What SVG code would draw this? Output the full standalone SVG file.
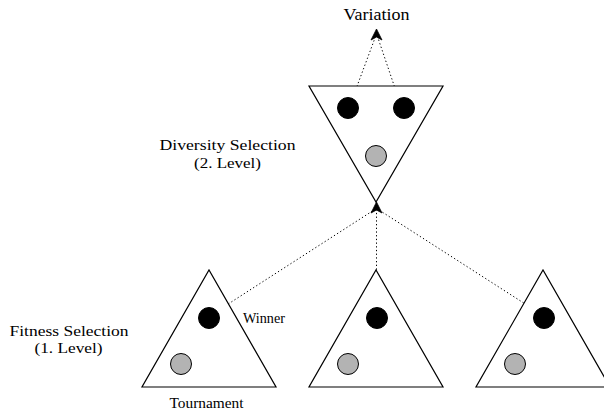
<svg xmlns="http://www.w3.org/2000/svg" width="604" height="413" viewBox="0 0 604 413">
<style>
.tri{fill:#fff;stroke:#000;stroke-width:1.2}
.win{fill:#000;stroke:#000;stroke-width:1}
.los{fill:#b3b3b3;stroke:#000;stroke-width:1}
.con{fill:none;stroke:#000;stroke-width:1;stroke-dasharray:1.3 2.4}
.head{fill:#000;stroke:#000;stroke-width:0.8;stroke-linejoin:miter}
.lbl{font-family:'Liberation Serif','Times New Roman',serif;fill:#000}
.big{font-size:17px}
.two{font-size:15px}
.sm{font-size:15px}
</style>
<rect width="604" height="413" fill="#fff"/>
<g id="connectors">
<line class="con" x1="353" y1="97" x2="375" y2="38"/>
<line class="con" x1="398" y1="97" x2="378" y2="38"/>
<polygon class="head" points="376.5,29 382,40 376.5,37 371,40"/>
<line class="con" x1="222" y1="308" x2="374" y2="210"/>
<line class="con" x1="376.5" y1="303" x2="376.5" y2="210"/>
<line class="con" x1="533" y1="309" x2="379" y2="210"/>
<polygon class="head" points="376.5,202 382,213 376.5,210 371,213"/>
</g>
<g id="diversity">
<polygon class="tri" points="309,86 443,86 376,202"/>
<circle class="win" cx="348" cy="108" r="10.5"/>
<circle class="win" cx="404" cy="108" r="10.5"/>
<circle class="los" cx="376" cy="156" r="10.5"/>
</g>
<g id="tournament1">
<polygon class="tri" points="142,387 276,387 209,270"/>
<circle class="win" cx="209" cy="318" r="10.5"/>
<circle class="los" cx="181" cy="364" r="10.5"/>
</g>
<g id="tournament2">
<polygon class="tri" points="309,387 443,387 376,270"/>
<circle class="win" cx="377" cy="318" r="10.5"/>
<circle class="los" cx="348" cy="364" r="10.5"/>
</g>
<g id="tournament3">
<polygon class="tri" points="476,387 610,387 543,270"/>
<circle class="win" cx="544" cy="318" r="10.5"/>
<circle class="los" cx="515" cy="364" r="10.5"/>
</g>
<g id="labels">
<text class="lbl big" x="343.5" y="19.5" textLength="66" lengthAdjust="spacingAndGlyphs">Variation</text>
<text class="lbl two" x="159.5" y="150" textLength="136" lengthAdjust="spacingAndGlyphs">Diversity Selection</text>
<text class="lbl two" x="194" y="167.5" textLength="67" lengthAdjust="spacingAndGlyphs">(2. Level)</text>
<text class="lbl two" x="9.5" y="335.5" textLength="119" lengthAdjust="spacingAndGlyphs">Fitness Selection</text>
<text class="lbl two" x="34.5" y="353" textLength="68" lengthAdjust="spacingAndGlyphs">(1. Level)</text>
<text class="lbl sm" x="243" y="323" textLength="42" lengthAdjust="spacingAndGlyphs">Winner</text>
<text class="lbl sm" x="169.5" y="407.5" textLength="74" lengthAdjust="spacingAndGlyphs">Tournament</text>
</g>
</svg>
